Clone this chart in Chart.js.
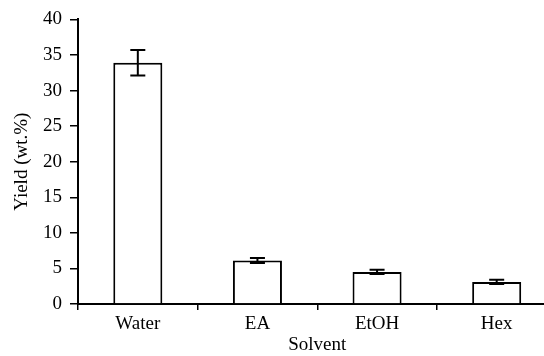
<!DOCTYPE html>
<html>
<head>
<meta charset="utf-8">
<script src="https://cdn.jsdelivr.net/npm/chart.js@4/dist/chart.umd.min.js"></script>
<style>
  html, body { margin: 0; padding: 0; background: #fff; overflow: hidden; }
  #wrap { width: 544px; height: 356px; overflow: hidden; }
</style>
</head>
<body>
<div id="wrap"><canvas id="chart" width="560" height="356"></canvas></div>
<script>
const solvents = ["Water", "EA", "EtOH", "Hex"];
const yieldPct = [33.9, 6.1, 4.5, 3.1];
const yieldErr = [1.8, 0.35, 0.3, 0.3];
const yTicks = [0, 5, 10, 15, 20, 25, 30, 35, 40];

const FONT = { family: "'Liberation Serif', 'DejaVu Serif', serif", size: 19 };

// error bars, drawn from the data through the y scale
const errorBars = {
  id: "errorBars",
  afterDatasetsDraw(chart) {
    const { ctx, scales: { y } } = chart;
    const meta = chart.getDatasetMeta(0);
    ctx.save();
    ctx.strokeStyle = "#000";
    ctx.lineWidth = 2;
    meta.data.forEach((bar, i) => {
      const top = y.getPixelForValue(yieldPct[i] + yieldErr[i]);
      const bot = y.getPixelForValue(yieldPct[i] - yieldErr[i]);
      const cap = 7.5;
      ctx.beginPath();
      ctx.moveTo(bar.x, top); ctx.lineTo(bar.x, bot);
      ctx.moveTo(bar.x - cap, top); ctx.lineTo(bar.x + cap, top);
      ctx.moveTo(bar.x - cap, bot); ctx.lineTo(bar.x + cap, bot);
      ctx.stroke();
    });
    ctx.restore();
  }
};

new Chart(document.getElementById("chart"), {
  type: "bar",
  data: {
    labels: solvents,
    datasets: [{
      data: yieldPct,
      backgroundColor: "#fff",
      borderColor: "#000",
      borderWidth: 2,
      categoryPercentage: 1,
      barPercentage: 0.41
    }]
  },
  options: {
    responsive: false,
    animation: false,
    layout: { padding: { top: 16, right: 3.5, left: 0, bottom: 0 } },
    plugins: { legend: { display: false }, tooltip: { enabled: false } },
    scales: {
      x: {
        afterFit(scale) { scale.height = 52; },
        border: { color: "#000", width: 2 },
        grid: { offset: true, drawOnChartArea: false, color: "#000", lineWidth: 1.5, tickLength: 6 },
        ticks: { color: "#000", font: FONT, padding: 3, maxRotation: 0 },
        title: { display: true, text: "Solvent", color: "#000", font: FONT, padding: { top: 0, bottom: 0 } }
      },
      y: {
        min: 0,
        max: 40,
        afterFit(scale) { scale.width = 78; },
        afterBuildTicks(scale) { scale.ticks = yTicks.map(v => ({ value: v })); },
        border: { color: "#000", width: 2 },
        grid: { drawOnChartArea: false, color: "#000", lineWidth: 1.5, tickLength: 8 },
        ticks: { color: "#000", font: FONT, padding: 8 },
        title: { display: true, text: "Yield (wt.%)", color: "#000", font: FONT, padding: { top: 11, bottom: 0 } }
      }
    }
  },
  plugins: [errorBars]
});
</script>
</body>
</html>
